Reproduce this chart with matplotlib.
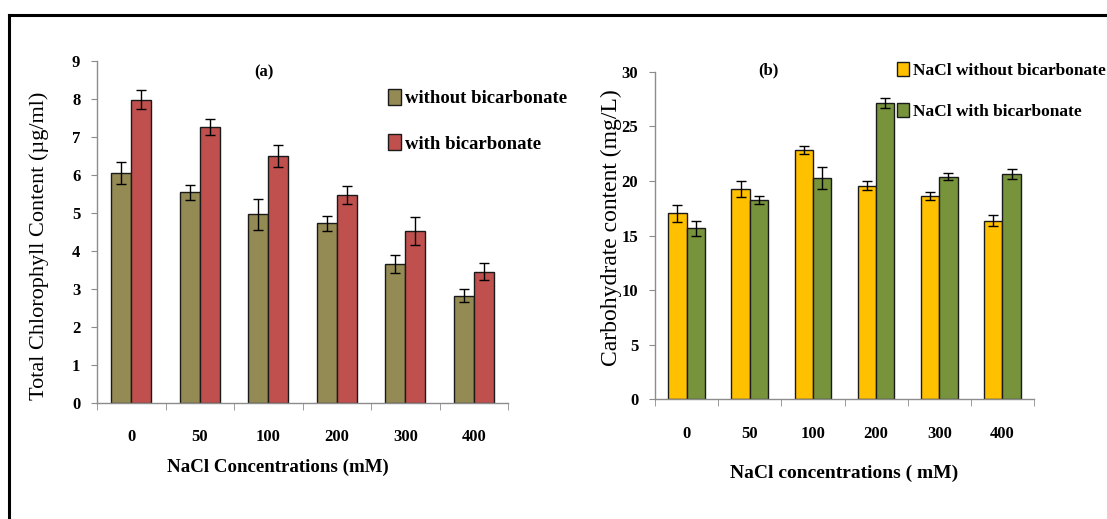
import matplotlib
matplotlib.use("Agg")
import matplotlib.pyplot as plt
import numpy as np
from matplotlib.lines import Line2D

# NaCl concentration categories (mM)
categories = ["0", "50", "100", "200", "300", "400"]

# (a) Total chlorophyll content (µg/ml)
chl_without = [6.05, 5.54, 4.96, 4.72, 3.65, 2.82]
chl_without_err = [0.29, 0.20, 0.41, 0.20, 0.24, 0.18]
chl_with = [7.97, 7.25, 6.49, 5.46, 4.52, 3.45]
chl_with_err = [0.25, 0.21, 0.29, 0.23, 0.36, 0.22]

# (b) Carbohydrate content (mg/L)
carb_without = [17.03, 19.26, 22.83, 19.56, 18.58, 16.36]
carb_without_err = [0.75, 0.70, 0.35, 0.40, 0.37, 0.50]
carb_with = [15.65, 18.28, 20.23, 27.13, 20.38, 20.63]
carb_with_err = [0.70, 0.35, 1.00, 0.43, 0.30, 0.49]

W, H = 1107, 519
fig = plt.figure(figsize=(W / 100, H / 100), dpi=100)
fig.patch.set_facecolor("white")

serif = ["Liberation Serif", "DejaVu Serif"]
axis_gray = "#8c8c8c"


def px(x, y):
    """Pixel position (from top-left) to figure fraction."""
    return x / W, 1 - y / H


def style_axes(ax, ymax, ystep):
    x = np.arange(len(categories))
    ax.set_xlim(-0.5, len(categories) - 0.5)
    ax.set_ylim(0, ymax)
    ax.set_yticks(np.arange(0, ymax + 0.001, ystep))
    ax.set_xticks(x)
    ax.set_xticks(np.arange(-0.5, len(categories), 1.0), minor=True)
    ax.set_xticklabels(categories, family=serif, fontweight="bold", fontsize=12)
    for lab in ax.get_yticklabels():
        lab.set_family(serif)
        lab.set_fontweight("bold")
        lab.set_fontsize(12)
    ax.tick_params(axis="x", which="major", length=0, pad=19)
    ax.tick_params(axis="x", which="minor", length=5, color=axis_gray, direction="out")
    ax.tick_params(axis="y", length=4, color=axis_gray, direction="out", pad=8)
    for s in ("top", "right"):
        ax.spines[s].set_visible(False)
    for s in ("left", "bottom"):
        ax.spines[s].set_color(axis_gray)
        ax.spines[s].set_linewidth(1.0)
    return x


def draw_pair(ax, x, v1, e1, c1, v2, e2, c2, l1, l2, width=0.29):
    kw = dict(edgecolor="#1a1a1a", linewidth=1.0, zorder=2,
              error_kw=dict(ecolor="black", elinewidth=1.0, capsize=3.3, capthick=1.0))
    b1 = ax.bar(x - width / 2, v1, width, yerr=e1, color=c1, label=l1, **kw)
    b2 = ax.bar(x + width / 2, v2, width, yerr=e2, color=c2, label=l2, **kw)
    return b1, b2


leg_kw = dict(loc="upper left", bbox_transform=fig.transFigure, frameon=False,
              handlelength=0.7, handleheight=0.9, handletextpad=0.2,
              borderaxespad=0, borderpad=0)

# Panel (a)
ax1 = fig.add_axes([97 / W, 1 - 402.7 / H, (508 - 97) / W, (402.7 - 60.7) / H])
x1 = style_axes(ax1, 9, 1)
draw_pair(ax1, x1, chl_without, chl_without_err, "#948a54",
          chl_with, chl_with_err, "#c0504d",
          "without bicarbonate", "with bicarbonate")
fig.text(*px(39, 246), "Total Chlorophyll Content (µg/ml)", rotation=90,
         ha="center", va="center", family=serif, fontsize=16)
fig.text(*px(278, 467), "NaCl Concentrations (mM)", ha="center", va="center",
         family=serif, fontweight="bold", fontsize=13.6)
fig.text(*px(264, 72), "(a)", ha="center", va="center",
         family=serif, fontweight="bold", fontsize=12)
ax1.legend(bbox_to_anchor=px(388, 89), prop=dict(family=serif, weight="bold", size=13.5),
           labelspacing=1.45, **leg_kw)

# Panel (b)
ax2 = fig.add_axes([655 / W, 1 - 399.3 / H, (1034 - 655) / W, (399.3 - 71.7) / H])
x2 = style_axes(ax2, 30, 5)
draw_pair(ax2, x2, carb_without, carb_without_err, "#ffc000",
          carb_with, carb_with_err, "#77933c",
          "NaCl without bicarbonate", "NaCl with bicarbonate")
fig.text(*px(611, 228), "Carbohydrate content (mg/L)", rotation=90,
         ha="center", va="center", family=serif, fontsize=17)
fig.text(*px(844, 473), "NaCl concentrations ( mM)", ha="center", va="center",
         family=serif, fontweight="bold", fontsize=14)
fig.text(*px(768, 70), "(b)", ha="center", va="center",
         family=serif, fontweight="bold", fontsize=12)
ax2.legend(bbox_to_anchor=px(897, 62), prop=dict(family=serif, weight="bold", size=12.5),
           labelspacing=1.35, **leg_kw)

# Frame lines along the top and left edges
fig.add_artist(Line2D([9 / W, 9 / W], [0, 1 - 15 / H], transform=fig.transFigure,
                      color="black", linewidth=2.2))
fig.add_artist(Line2D([9 / W, 1], [1 - 15 / H, 1 - 15 / H], transform=fig.transFigure,
                      color="black", linewidth=2.2))

fig.savefig("out.png", dpi=100, facecolor="white")
